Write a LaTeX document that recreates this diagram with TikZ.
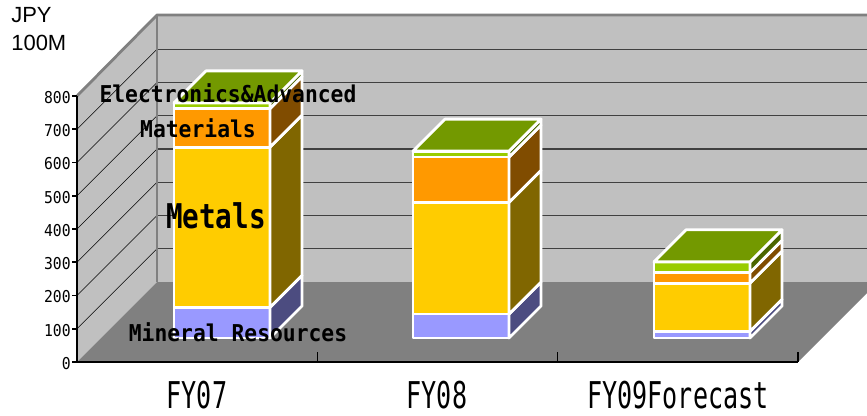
\documentclass[tikz,border=0pt]{standalone}
\usepackage{fontspec}
\setmainfont{Liberation Sans}
\newfontfamily\chartfont{DejaVu Sans Mono}
\usetikzlibrary{positioning}
\definecolor{wallgray}{RGB}{192,192,192}
\definecolor{floorgray}{RGB}{128,128,128}
\definecolor{gridgray}{RGB}{64,64,64}
\definecolor{mineral}{RGB}{153,153,255}
\definecolor{metal}{RGB}{255,204,0}
\definecolor{material}{RGB}{255,153,0}
\definecolor{electronic}{RGB}{153,204,0}
\tikzset{
  wall/.style={fill=wallgray},
  floorface/.style={fill=floorgray},
  walledge/.style={draw=floorgray,line width=1.6pt,line join=round},
  gridline/.style={draw=gridgray,line width=0.8pt},
  hatchline/.style={draw=black,line width=0.4pt},
  axisline/.style={draw=black,line width=0.9pt},
  segment/.style={draw=white,line width=1.6pt,line join=round},
  ticklabel/.style={font=\chartfont\fontsize{9.3}{10}\selectfont,anchor=east,inner sep=0pt,xscale=0.9},
  catlabel/.style={font=\chartfont\fontsize{21}{22}\selectfont,xscale=0.68,inner sep=0pt},
  serieslabel/.style={font=\chartfont\bfseries\fontsize{13.2}{14}\selectfont,xscale=0.92,inner sep=0pt},
  biglabel/.style={font=\chartfont\bfseries\fontsize{19.4}{20}\selectfont,xscale=0.81,inner sep=0pt},
  unitlabel/.style={font=\fontsize{12.5}{14}\selectfont,anchor=west,inner sep=0pt}
}

\begin{document}
\begin{tikzpicture}[x=0.02cm,y=-0.02cm]
    \useasboundingbox (0,0) rectangle (867,416);
    \clip (0,0) rectangle (867,416);
    \coordinate (origin) at (77,362);
    \coordinate (axtop) at (77,96);
    \coordinate (backorigin) at (157,282);
    \coordinate (backtop) at (157,15);
    \coordinate (backright) at (878,15);
    \coordinate (backfloor) at (878,282);
    \coordinate (floorright) at (798,362);
    % walls and floor
    \fill[wall] (origin) -- (axtop) -- (backtop) -- (backorigin) -- cycle;
    \fill[wall] (backtop) -- (backright) -- (backfloor) -- (backorigin) -- cycle;
    \fill[floorface] (origin) -- (backorigin) -- (backfloor) -- (floorright) -- cycle;
    \foreach \k in {1,...,7} {
      \draw[gridline] (157,282-33.25*\k) -- (878,282-33.25*\k);
      \draw[hatchline] (77,362-33.25*\k) -- (157,282-33.25*\k);
    }
    \draw[walledge] (axtop) -- (backtop) -- (backright);
    \draw[walledge] (backtop) -- (backorigin);
    % axes
    \draw[axisline] (axtop) -- (origin) -- (floorright);
    \foreach \k in {0,...,8} {
      \pgfmathtruncatemacro\val{100*\k}
      \draw[axisline] (72,362-33.25*\k) -- (77,362-33.25*\k);
      \node[ticklabel] (tick\k) at (71,363.5-33.25*\k) {\val};
    }
    \foreach \t in {317.3,557.7,798} \draw[axisline] (\t,362) -- (\t,352);
    % stacked bars
    \foreach \bx/\segs/\top in {
        174/{0/92/mineral,92/574/metal,574/690/material,690/707/electronic}/707,
        413/{0/72/mineral,72/408/metal,408/544/material,544/562/electronic}/562,
        654/{0/20/mineral,20/165/metal,165/197/material,197/229/electronic}/229} {
      \begin{scope}[shift={(\bx,338)},y=0.00665cm]
        \foreach \lo/\hi/\c in \segs {
          \filldraw[segment,fill=\c] (0,\lo) rectangle (96,\hi);
          \filldraw[segment,fill=\c!50!black] (96,\lo) -- (128,\lo+96.24) -- (128,\hi+96.24) -- (96,\hi) -- cycle;
        }
        \filldraw[segment,fill=electronic!75!black] (0,\top) -- (32,\top+96.24) -- (128,\top+96.24) -- (96,\top) -- cycle;
      \end{scope}
    }
    % labels
    \node[unitlabel] (unitJ) at (11,15) {JPY};
    \node[unitlabel] (unitM) at (11,43) {100M};
    \node[serieslabel] (elec) at (228,93) {Electronics\&Advanced};
    \node[serieslabel] (mater) at (198,128) {Materials};
    \node[biglabel] (metals) at (216,216) {Metals};
    \node[serieslabel] (miner) at (238,332) {Mineral Resources};
    \node[catlabel] (fy07) at (197,395) {FY07};
    \node[catlabel] (fy08) at (437,395) {FY08};
    \node[catlabel] (fy09) at (678,395) {FY09Forecast};
  \end{tikzpicture}
\end{document}
